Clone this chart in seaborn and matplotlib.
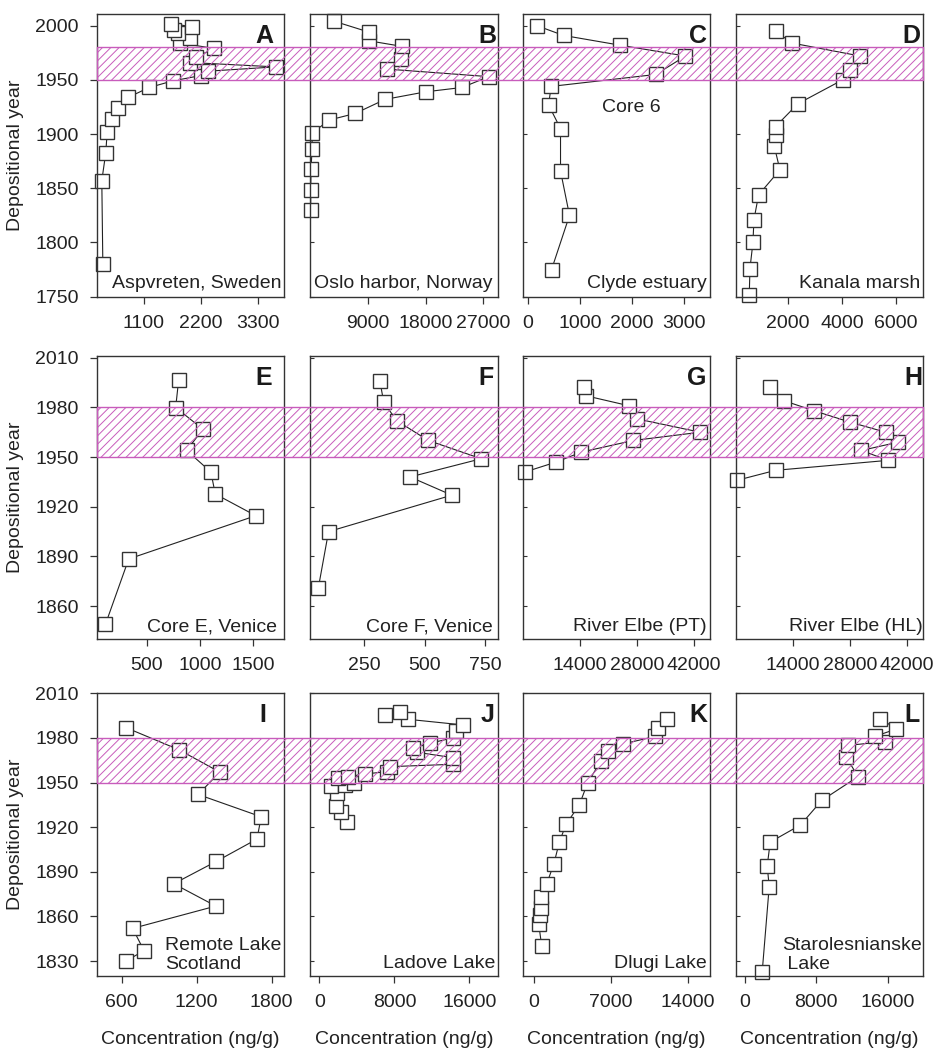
import matplotlib
matplotlib.use("Agg")
import matplotlib.pyplot as plt
import matplotlib.transforms as mtransforms
from matplotlib.patches import Rectangle
import seaborn as sns
import pandas as pd

# ---------------- data ----------------
a_year = [1780, 1857, 1883, 1902, 1914, 1924, 1934, 1943, 1949, 1954, 1958, 1962, 1966, 1971, 1979, 1984, 1989, 1993, 1996, 1999, 2002]
a_conc = [318, 298, 375, 401, 503, 612, 811, 1209, 1658, 2200, 2330, 3640, 2000, 2110, 2460, 1800, 1990, 1770, 1680, 2030, 1630]

b_year = [1830, 1848, 1868, 1886, 1901, 1913, 1919, 1932, 1939, 1943, 1953, 1960, 1969, 1981, 1986, 1994, 2004]
b_conc = [60, 60, 110, 280, 280, 2970, 6980, 11660, 18000, 23660, 27830, 11880, 14170, 14220, 9180, 9180, 3770]

c_year = [1775, 1825, 1866, 1905, 1927, 1944, 1955, 1972, 1982, 1991, 2000]
c_conc = [456, 802, 629, 629, 398, 449, 2465, 3037, 1778, 687, 173]

d_year = [1752, 1776, 1800, 1821, 1844, 1867, 1889, 1899, 1907, 1928, 1950, 1959, 1972, 1984, 1995]
d_conc = [589, 614, 724, 761, 933, 1718, 1509, 1558, 1558, 2380, 4025, 4307, 4675, 2160, 1558]

e_year = [1849, 1888.5, 1914.6, 1927.7, 1941, 1954, 1966.8, 1979.9, 1996.5]
e_conc = [112, 331, 1525, 1144, 1103, 875, 1028, 772, 800]

f_year = [1871, 1905, 1927, 1938, 1949, 1960, 1972, 1983, 1996]
f_conc = [63, 105, 612, 440, 733, 515, 385, 332, 316]

g_year = [1941, 1947, 1953, 1960, 1965, 1973, 1981, 1987, 1992]
g_conc = [570, 8220, 14400, 27100, 43500, 28080, 26000, 15470, 14900]

h_year = [1936, 1942, 1948, 1954, 1959, 1965, 1971, 1978, 1984, 1992]
h_conc = [290, 9730, 37300, 30800, 39860, 36740, 28120, 19090, 11780, 8330]

i_year = [1830, 1837, 1852, 1867, 1882, 1897, 1912, 1927, 1942, 1957, 1972, 1987]
i_conc = [632, 779, 688, 1354, 1017, 1357, 1683, 1718, 1212, 1386, 1060, 632]

j_year = [1923.7, 1930, 1934.2, 1942.7, 1947.9, 1948.4, 1949.5, 1952.8, 1954, 1955.8, 1957.3, 1960.7, 1962.3,
          1966.7, 1970.3, 1973, 1976.4, 1980.2, 1984.7, 1988.7, 1992.5, 1995.4, 1997.2]
j_conc = [2987, 2311, 1742, 1849, 1245, 2738, 3734, 2027, 3094, 4872, 7183, 7539, 14295,
          14295, 10455, 10028, 11806, 14295, 14580, 15362, 9495, 7005, 8606]

k_year = [1840, 1855, 1861, 1866, 1873, 1882, 1895, 1910, 1922, 1935, 1950, 1964.5, 1971, 1976, 1981, 1986.5, 1993]
k_conc = [726, 454, 575, 665, 695, 1179, 1814, 2328, 2933, 4143, 4899, 6108, 6774, 8135, 11007, 11310, 12066]

l_year = [1823, 1880, 1894, 1910, 1921.5, 1938, 1954, 1967, 1975, 1977.5, 1981, 1986, 1993]
l_conc = [1940, 2723, 2500, 2835, 6229, 8616, 12682, 11377, 11563, 15666, 14547, 16972, 15181]

panel_letters = ["A", "B", "C", "D", "E", "F", "G", "H", "I", "J", "K", "L"]
site_names = ["Aspvreten, Sweden", "Oslo harbor, Norway", "Clyde estuary", "Kanala marsh",
              "Core E, Venice", "Core F, Venice", "River Elbe (PT)", "River Elbe (HL)",
              "Remote Lake\nScotland", "Ladove Lake", "Dlugi Lake", "Starolesnianske\n Lake"]
x_ticks = [[1100, 2200, 3300], [9000, 18000, 27000], [0, 1000, 2000, 3000], [2000, 4000, 6000],
           [500, 1000, 1500], [250, 500, 750], [14000, 28000, 42000], [14000, 28000, 42000],
           [600, 1200, 1800], [0, 8000, 16000], [0, 7000, 14000], [0, 8000, 16000]]
x_limits = [(200, 3800), (0, 29200), (-100, 3510), (100, 7000),
            (30, 1790), (30, 800), (0, 45900), (0, 46000),
            (400, 1900), (-960, 19000), (-1000, 16000), (-1000, 20000)]
row_ylim = [(1750, 2010.5), (1840, 2011), (1820, 2010)]
row_yticks = [list(range(1750, 2001, 50)), list(range(1860, 2011, 30)), list(range(1830, 2011, 30))]
band_years = (1950, 1980)
x_label = "Concentration (ng/g)"
y_label = "Depositional year"

series = [(a_conc, a_year), (b_conc, b_year), (c_conc, c_year), (d_conc, d_year),
          (e_conc, e_year), (f_conc, f_year), (g_conc, g_year), (h_conc, h_year),
          (i_conc, i_year), (j_conc, j_year), (k_conc, k_year), (l_conc, l_year)]

# ---------------- style ----------------
sns.set_theme(style="ticks")
plt.rcParams["font.family"] = ["Liberation Sans", "DejaVu Sans"]
plt.rcParams["hatch.linewidth"] = 0.7
spine_col = "#333333"

W, H = 936, 1051
fig = plt.figure(figsize=(W / 100, H / 100), dpi=100)

col_left = [96.7, 310.3, 522.7, 736.0]
col_w = 187.3
row_top = [14.3, 356.0, 693.3]
row_h = [282.4, 283.3, 282.7]

site_pos = [(0.985, 0.015, "right"), (0.02, 0.015, "left"), (0.98, 0.015, "right"), (0.985, 0.015, "right"),
            (0.96, 0.015, "right"), (0.975, 0.015, "right"), (0.98, 0.015, "right"), (0.995, 0.015, "right"),
            (0.365, 0.012, "left"), (0.99, 0.015, "right"), (0.98, 0.015, "right"), (0.245, 0.012, "left")]
letter_x = [0.945, 0.995, 0.985, 0.985, 0.935, 0.98, 0.98, 0.993, 0.905, 0.985, 0.985, 0.98]

axes = []
for idx in range(12):
    r, c = divmod(idx, 4)
    left = col_left[c] / W
    bottom = 1 - (row_top[r] + row_h[r]) / H
    ax = fig.add_axes([left, bottom, col_w / W, row_h[r] / H])
    ax.set_facecolor("none")
    axes.append(ax)
    conc, year = series[idx]
    df = pd.DataFrame({"conc": conc, "year": year})
    sns.lineplot(data=df, x="conc", y="year", sort=False, estimator=None, ax=ax,
                 color="#222222", linewidth=0.8, marker="s", markersize=9.5,
                 markerfacecolor="white", markeredgecolor="#333333", markeredgewidth=1.0,
                 clip_on=False)
    ax.set_xlim(*x_limits[idx])
    ax.set_ylim(*row_ylim[r])
    ax.set_xticks(x_ticks[idx])
    ax.set_xticklabels([str(t) for t in x_ticks[idx]])
    ax.set_yticks(row_yticks[r])
    ax.set_xlabel("")
    ax.set_ylabel("")
    for s in ax.spines.values():
        s.set_visible(True)
        s.set_color(spine_col)
        s.set_linewidth(1.0)
    ax.tick_params(axis="x", direction="out", length=5, width=0.9, color=spine_col,
                   labelsize=14, pad=8, labelcolor="#222222")
    if c == 0:
        ax.tick_params(axis="y", direction="out", length=5, width=0.9, color=spine_col,
                       labelsize=14, pad=8, labelcolor="#222222")
        ax.set_ylabel(y_label, fontsize=14, labelpad=8, color="#222222")
    else:
        ax.tick_params(axis="y", direction="in", length=3, width=0.8, color=spine_col,
                       labelleft=False)
    if r == 2:
        ax.set_xlabel(x_label, fontsize=14, labelpad=14, color="#222222")
    sx, sy, sha = site_pos[idx]
    ax.text(sx, sy, site_names[idx], transform=ax.transAxes, ha=sha, va="bottom",
            fontsize=14, color="#222222", linespacing=1.1)
    ax.text(letter_x[idx], 0.965, panel_letters[idx], transform=ax.transAxes, ha="right", va="top",
            fontsize=18, fontweight="bold", color="#1a1a1a")

axes[2].text(0.58, 0.67, "Core 6", transform=axes[2].transAxes, ha="center", va="center",
             fontsize=14, color="#222222")

# hatched band spanning each row
x0 = col_left[0] / W
x1 = (col_left[3] + col_w) / W
for r in range(3):
    ax0 = axes[r * 4]
    trans = mtransforms.blended_transform_factory(fig.transFigure, ax0.transData)
    rect = Rectangle((x0, band_years[0]), x1 - x0, band_years[1] - band_years[0],
                     transform=trans, facecolor="none", edgecolor="#c85cbc",
                     hatch="////", linewidth=1.0, zorder=10)
    fig.add_artist(rect)

fig.savefig("out.png", dpi=100)
